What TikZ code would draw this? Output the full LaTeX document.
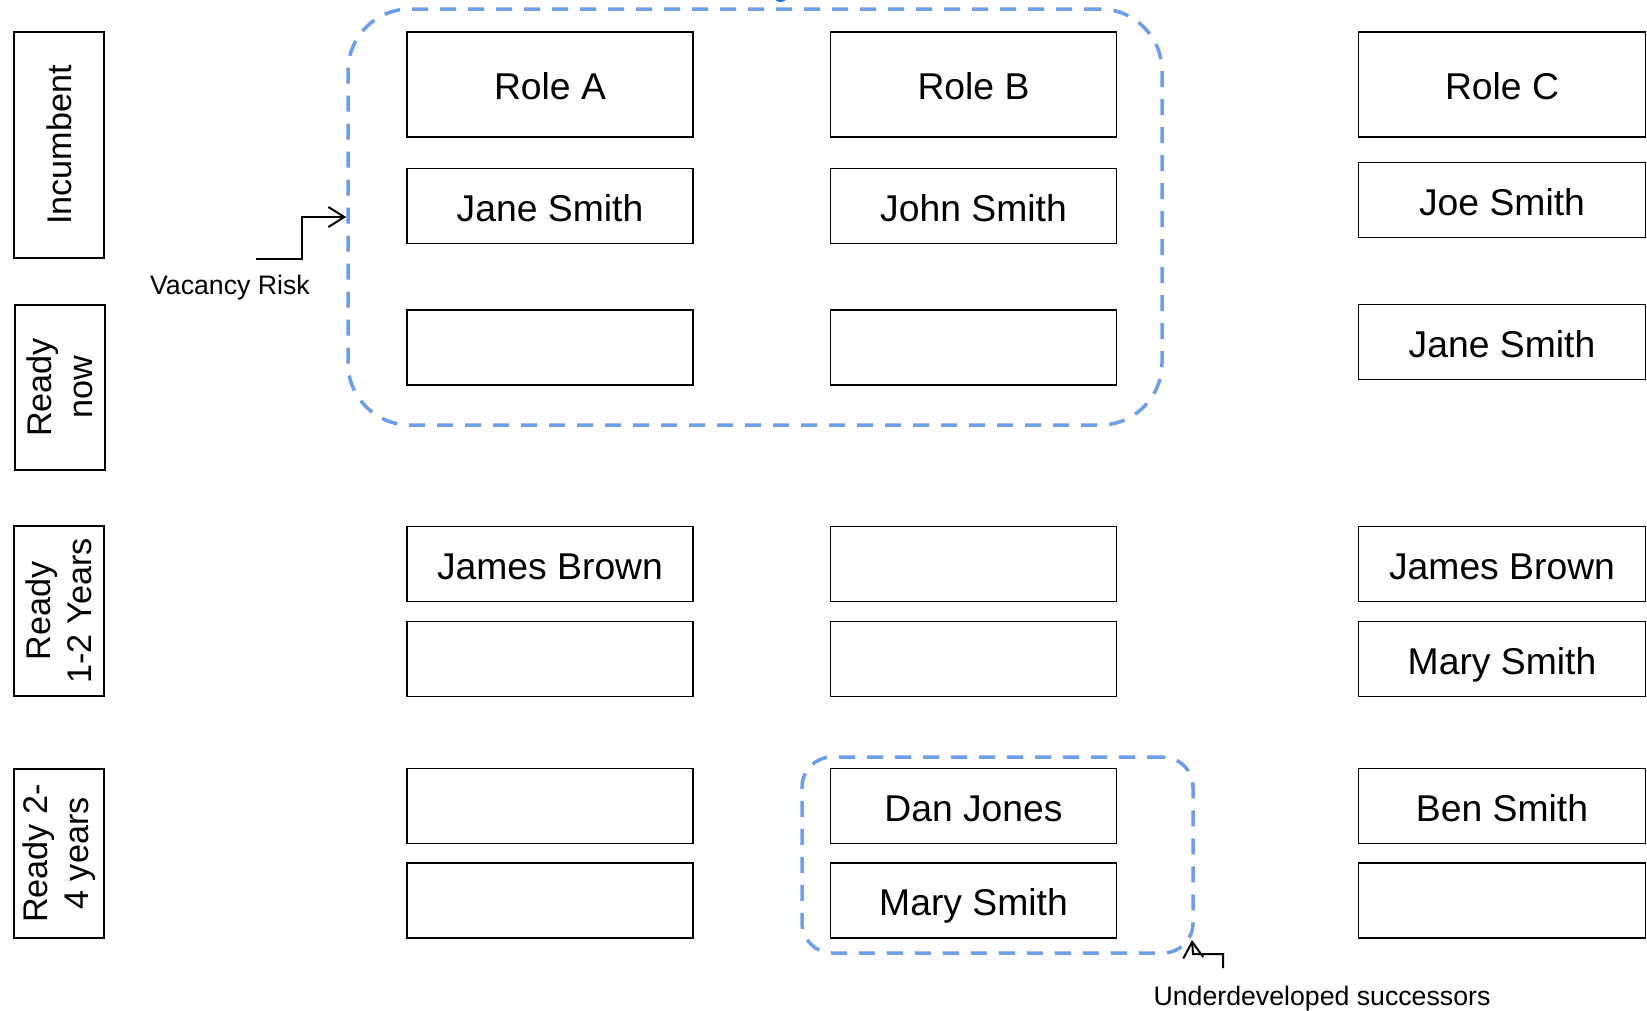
\documentclass[tikz,border=0pt]{standalone}
\usepackage{fontspec}
\setmainfont{Liberation Sans}
\usepackage{xcolor}
\usepackage{tikz}
\usetikzlibrary{arrows.meta,calc}

\definecolor{zoneblue}{HTML}{6D9EEB}
\definecolor{handleblue}{HTML}{1A73E8}

\begin{document}
\begin{tikzpicture}[x=1pt, y=-1pt,
    slot/.style={rectangle, draw, line width=1.8pt, fill=white, minimum width=286pt, minimum height=75pt, inner sep=0pt, text height=30pt, text depth=0pt, text centered, font=\fontsize{37.3}{44}\selectfont},
    role/.style={slot, minimum height=105pt},
    tier/.style={rectangle, draw, line width=1.8pt, rotate=90, minimum height=90pt, inner sep=0pt, align=center, font=\fontsize{34.2}{41}\selectfont},
    zone/.style={rectangle, draw=zoneblue, line width=3.5pt, dash pattern=on 16pt off 12pt, rounded corners=#1, inner sep=0pt},
    note/.style={font=\fontsize{26.7}{32}\selectfont},
    pointer/.style={line width=2pt, -{Straight Barb[length=16pt, width=20pt, line width=2pt]}}]

  \useasboundingbox (0,0) rectangle (1647,1010);

  % readiness tiers down the left
  \node[tier, minimum width=226pt] (tInc) at (59,145) {Incumbent};
  \node[tier, minimum width=165pt] (tNow) at (60,387.5) {Ready\\now};
  \node[tier, minimum width=170pt] (tOne) at (59,611) {Ready\\1-2 Years};
  \node[tier, minimum width=169pt] (tTwo) at (59,853.5) {Ready 2-\\4 years};

  % dashed groups
  \node[zone=62pt, minimum width=814pt, minimum height=416pt] (risk) at (755,217) {};
  \node[zone=30pt, minimum width=391pt, minimum height=196pt] (weak) at (997.5,855) {};
  \fill[handleblue] (780.5,-6) circle (8pt);

  % role A
  \node[role] (roleA) at (550,84.5) {Role A};
  \node[slot] (incA) at (550,206) {Jane Smith};
  \node[slot] (nowA) at (550,347.5) {};
  \node[slot] (oneA1) at (550,564) {James Brown};
  \node[slot] (oneA2) at (550,659) {};
  \node[slot] (twoA1) at (550,806) {};
  \node[slot] (twoA2) at (550,900.5) {};

  % role B
  \node[role] (roleB) at (973.5,84.5) {Role B};
  \node[slot] (incB) at (973.5,206) {John Smith};
  \node[slot] (nowB) at (973.5,347.5) {};
  \node[slot] (oneB1) at (973.5,564) {};
  \node[slot] (oneB2) at (973.5,659) {};
  \node[slot] (twoB1) at (973.5,806) {Dan Jones};
  \node[slot] (twoB2) at (973.5,900.5) {Mary Smith};

  % role C
  \node[role, minimum width=287pt] (roleC) at (1502,84.5) {Role C};
  \node[slot, minimum width=287pt] (incC) at (1502,200) {Joe Smith};
  \node[slot, minimum width=287pt] (nowC) at (1502,342) {Jane Smith};
  \node[slot, minimum width=287pt] (oneC1) at (1502,564) {James Brown};
  \node[slot, minimum width=287pt] (oneC2) at (1502,659) {Mary Smith};
  \node[slot, minimum width=287pt] (twoC1) at (1502,806) {Ben Smith};
  \node[slot, minimum width=287pt] (twoC2) at (1502,900.5) {};

  % callouts
  \node[note] (vacancy) at (230,288) {Vacancy Risk};
  \coordinate (vacTail) at (256,259);
  \draw[pointer] (vacTail) -- ++(45.5,0) |- (risk.west);

  \node[note] (under) at (1322,999) {Underdeveloped successors};
  \coordinate (underTail) at (1223,968);
  \coordinate (underTip) at (1192,940);
  \draw[pointer] (underTail) -- ++(0,-14) -- ++(-30,0) -- (underTip);
\end{tikzpicture}
\end{document}
